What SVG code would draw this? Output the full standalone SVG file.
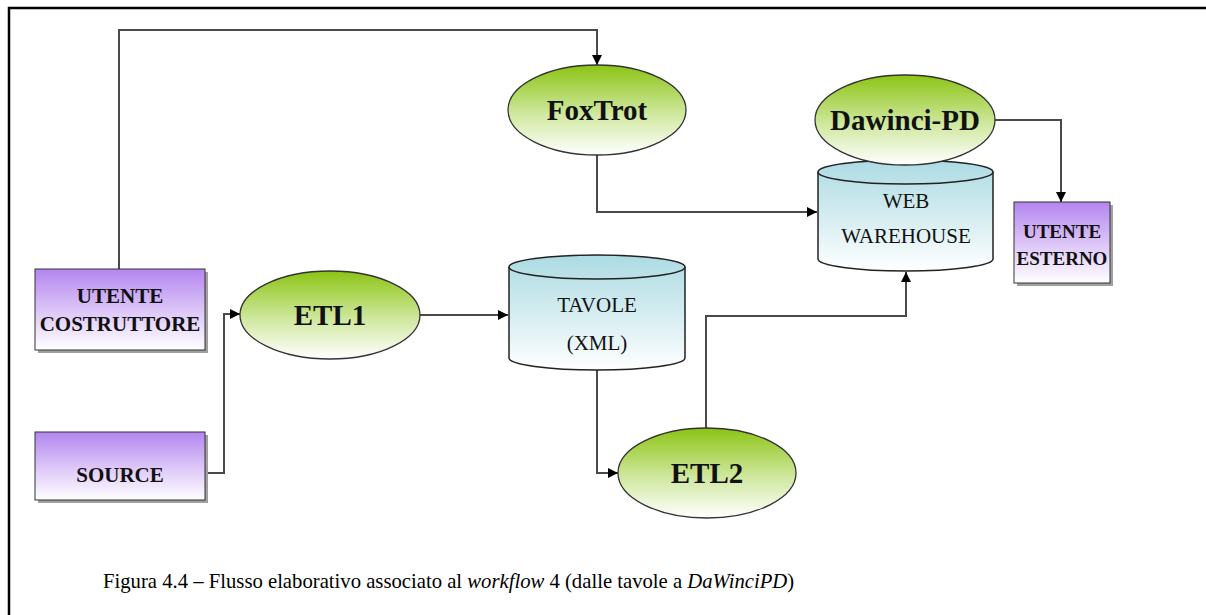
<svg xmlns="http://www.w3.org/2000/svg" width="1206" height="615" viewBox="0 0 1206 615">
<defs>
<linearGradient id="gPurple" x1="0" y1="0" x2="0" y2="1">
<stop offset="0" stop-color="#b386f0"/><stop offset="0.55" stop-color="#dfcaf8"/><stop offset="1" stop-color="#ffffff"/>
</linearGradient>
<linearGradient id="gGreen" x1="0" y1="0" x2="0" y2="1">
<stop offset="0" stop-color="#8cc414"/><stop offset="0.55" stop-color="#d0e8a0"/><stop offset="1" stop-color="#ffffff"/>
</linearGradient>
<linearGradient id="gCyan" x1="0" y1="0" x2="0" y2="1">
<stop offset="0" stop-color="#acdbe3"/><stop offset="0.6" stop-color="#dcf0f3"/><stop offset="1" stop-color="#ffffff"/>
</linearGradient>
<marker id="arr" viewBox="0 0 10 10" refX="10" refY="5" markerWidth="5" markerHeight="5" orient="auto" markerUnits="strokeWidth">
<path d="M0,0 L10,5 L0,10 Z" fill="#000"/>
</marker>
</defs>
<style>
.box{fill:url(#gPurple);stroke:#333;stroke-width:1}
.shadow{fill:#a0a0a0}
.ell{fill:url(#gGreen);stroke:#333;stroke-width:1.3}
.cyl{fill:url(#gCyan);stroke:#222;stroke-width:1.5}
.lbl{font-family:"Liberation Serif","Times New Roman",serif;font-weight:bold;font-size:21px;fill:#111;text-anchor:middle}
.lbl2{font-family:"Liberation Serif","Times New Roman",serif;font-weight:bold;font-size:19px;fill:#111;text-anchor:middle}
.elbl{font-family:"Liberation Serif","Times New Roman",serif;font-weight:bold;font-size:29px;fill:#111;text-anchor:middle}
.clbl{font-family:"Liberation Serif","Times New Roman",serif;font-size:21px;fill:#111;text-anchor:middle}
.conn{fill:none;stroke:#4a4a4a;stroke-width:2}
.cap{font-family:"Liberation Serif","Times New Roman",serif;font-size:20.7px;fill:#000}
</style>
<rect width="1206" height="615" fill="#fff"/>
<path d="M9,615 L9,8 L1206,8" fill="none" stroke="#000" stroke-width="2.5"/>

<g id="connectors">
<path class="conn" d="M119,269 L119,30 L597,30 L597,65" marker-end="url(#arr)"/>
<path class="conn" d="M205,473 L224,473 L224,314 L240,314" marker-end="url(#arr)"/>
<path class="conn" d="M420,315 L508,315" marker-end="url(#arr)"/>
<path class="conn" d="M597,370 L597,473 L618,473" marker-end="url(#arr)"/>
<path class="conn" d="M706,428 L706,316 L906,316 L906,272" marker-end="url(#arr)"/>
<path class="conn" d="M597,155 L597,212 L817,212" marker-end="url(#arr)"/>
<path class="conn" d="M994,120 L1061,120 L1061,202" marker-end="url(#arr)"/>
</g>

<g id="utente-costruttore">
<rect class="shadow" x="38" y="272" width="170" height="81"/>
<rect class="box" x="35" y="269" width="170" height="81"/>
<text class="lbl" x="120" y="303">UTENTE</text>
<text class="lbl" x="120" y="331">COSTRUTTORE</text>
</g>

<g id="source">
<rect class="shadow" x="38" y="435" width="170" height="68"/>
<rect class="box" x="35" y="432" width="170" height="68"/>
<text class="lbl" x="120" y="482">SOURCE</text>
</g>

<g id="utente-esterno">
<rect class="shadow" x="1017" y="205" width="96" height="81"/>
<rect class="box" x="1014" y="202" width="96" height="81"/>
<text class="lbl2" x="1062" y="238">UTENTE</text>
<text class="lbl2" x="1062" y="265">ESTERNO</text>
</g>

<g id="etl1">
<ellipse class="ell" cx="330" cy="315" rx="90" ry="44"/>
<text class="elbl" x="330" y="325">ETL1</text>
</g>

<g id="foxtrot">
<ellipse class="ell" cx="597" cy="110" rx="89" ry="45"/>
<text class="elbl" x="597" y="120">FoxTrot</text>
</g>

<g id="tavole">
<path class="cyl" d="M509,267 A88,12 0 0 1 685,267 L685,358 A88,12 0 0 1 509,358 Z"/>
<path d="M509,267 A88,12 0 0 0 685,267" fill="none" stroke="#222" stroke-width="1.5"/>
<text class="clbl" x="597" y="312">TAVOLE</text>
<text class="clbl" x="597" y="350">(XML)</text>
</g>

<g id="web-warehouse">
<path class="cyl" d="M818,172 A87.5,12 0 0 1 993,172 L993,259 A87.5,12 0 0 1 818,259 Z"/>
<path d="M818,172 A87.5,12 0 0 0 993,172" fill="none" stroke="#222" stroke-width="1.5"/>
<text class="clbl" x="906" y="208">WEB</text>
<text class="clbl" x="906" y="243">WAREHOUSE</text>
</g>

<g id="dawinci-pd">
<ellipse class="ell" cx="905" cy="120" rx="90" ry="45"/>
<text class="elbl" x="905" y="130">Dawinci-PD</text>
</g>

<g id="etl2">
<ellipse class="ell" cx="707" cy="473" rx="89" ry="45"/>
<text class="elbl" x="707" y="483">ETL2</text>
</g>

<text class="cap" x="103" y="588">Figura 4.4 – Flusso elaborativo associato al <tspan font-style="italic">workflow</tspan> 4 (dalle tavole a <tspan font-style="italic">DaWinciPD</tspan>)</text>
</svg>
